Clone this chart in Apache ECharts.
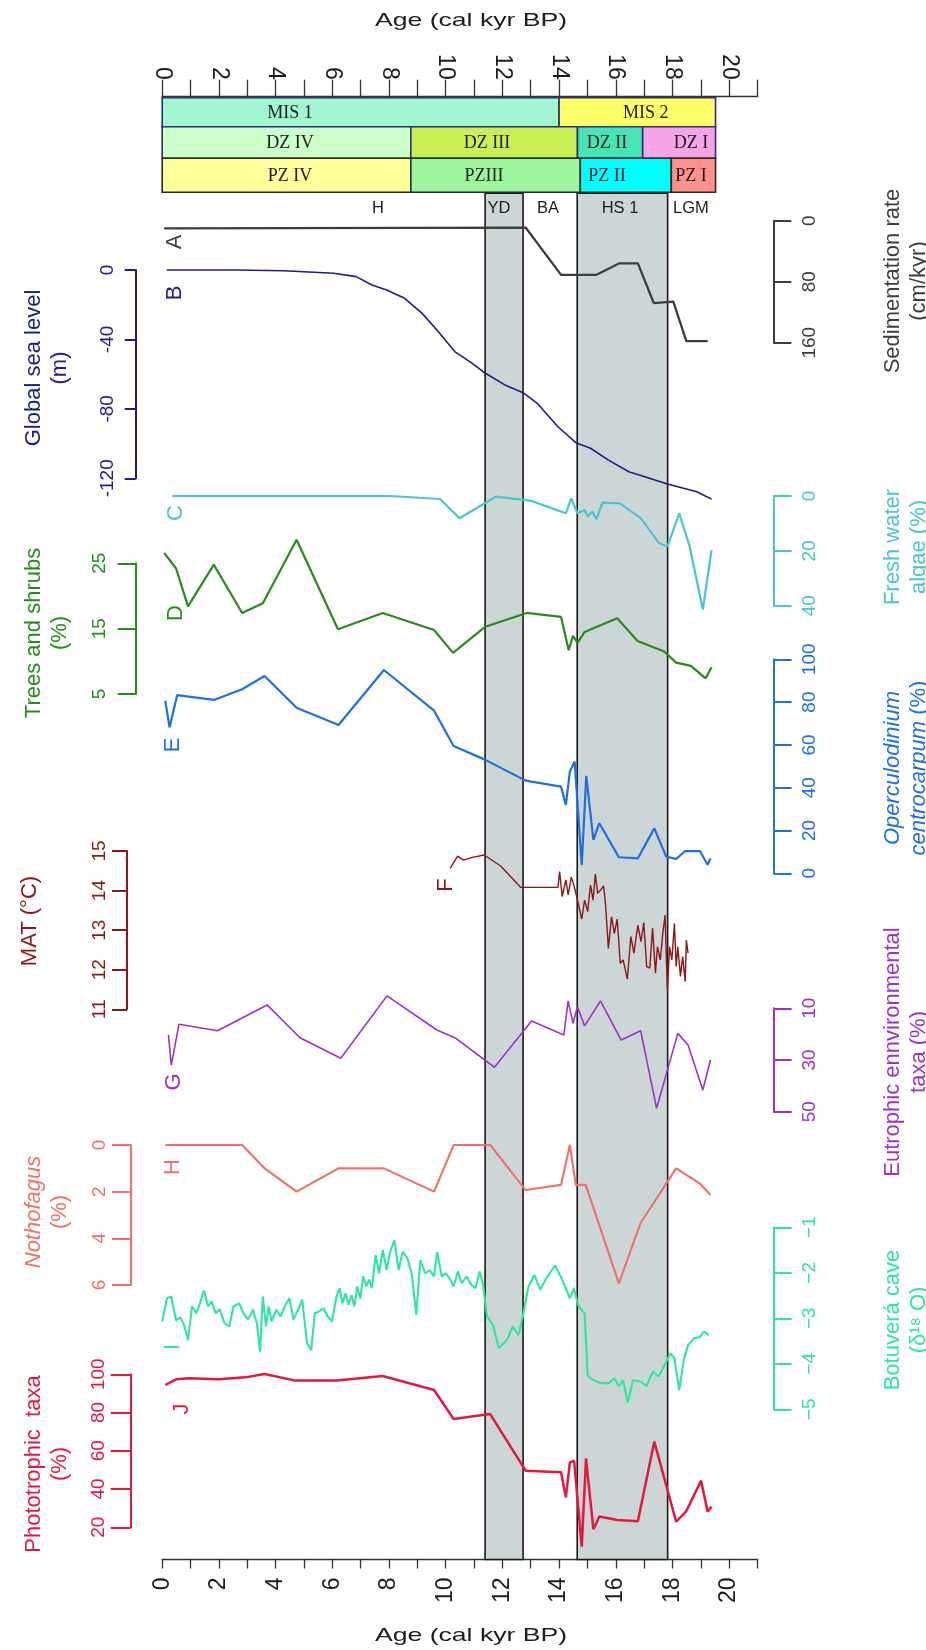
<!DOCTYPE html>
<html>
<head>
<meta charset="utf-8">
<script src="https://cdn.jsdelivr.net/npm/echarts@6/dist/echarts.min.js"></script>
<style>
  html, body { margin: 0; padding: 0; background: #ffffff; }
  #chart { width: 926px; height: 1650px; }
</style>
</head>
<body>
<div id="chart"></div>
<script>
// ---------------- Age axis ----------------
const ageMin = 0, ageMax = 21;
const ageLabels = [0, 2, 4, 6, 8, 10, 12, 14, 16, 18, 20];

// ---------------- Chronozones (MIS / dinocyst zones / pollen zones) ----------------
const zoneNames = ['MIS 1', 'MIS 2', 'DZ IV', 'DZ III', 'DZ II', 'DZ I', 'PZ IV', 'PZIII', 'PZ II', 'PZ I'];
const zoneStart = [0, 14.0, 0, 8.77, 14.65, 16.95, 0, 8.77, 14.75, 17.96];
const zoneEnd   = [14.0, 19.52, 8.77, 14.65, 16.95, 19.52, 8.77, 14.75, 17.96, 19.52];
const zoneRow   = [0, 0, 1, 1, 1, 1, 2, 2, 2, 2];

// ---------------- Climatic periods ----------------
const periodNames = ['H', 'YD', 'BA', 'HS 1', 'LGM'];
const periodAge   = [7.61, 11.88, 13.61, 16.15, 18.65];
const bandStart = [11.39, 14.64];   // YD, HS 1
const bandEnd   = [12.73, 17.83];

// ---------------- A: sedimentation rate (cm/kyr) ----------------
const sedAge  = [0.07, 12.82, 14.07, 15.32, 16.11, 16.78, 17.34, 18.03, 18.49, 19.24];
const sedRate = [10, 9, 71, 71, 56, 56, 108, 106, 158, 158];

// ---------------- B: global sea level (m) ----------------
const seaAge   = [0.16, 2.62, 4.28, 6.05, 6.84, 7.40, 7.92, 8.55, 9.17, 9.69, 10.32, 10.94, 11.40, 12.09, 12.73, 13.23, 13.96, 14.59, 15.11, 15.73, 16.46, 17.19, 17.82, 18.86, 19.38];
const seaLevel = [0, 0, -0.4, -1.9, -3.8, -8.6, -11.5, -16.3, -25, -34.6, -47, -53.8, -59.5, -66.2, -70.7, -76.8, -90.3, -99.5, -102.7, -109.4, -116.2, -120, -123.3, -127.7, -132];

// ---------------- C: fresh water algae (%) ----------------
const algaeAge = [0.36, 8.03, 9.80, 10.49, 11.78, 13.03, 14.24, 14.43, 14.65, 14.90, 15.01, 15.17, 15.32, 15.53, 16.15, 16.88, 17.51, 17.82, 18.24, 18.61, 19.07, 19.38];
const algae    = [0, 0, 1.1, 8.1, 0.2, 1.8, 6.3, 0.9, 6.3, 5.1, 7.5, 5.7, 8.5, 2.4, 2.7, 8.1, 17, 18.5, 6.3, 18.5, 41.4, 19.7];

// ---------------- D: trees and shrubs (%) ----------------
const treeAge = [0.07, 0.49, 0.91, 1.82, 2.82, 3.55, 4.74, 6.20, 7.78, 9.59, 10.26, 11.40, 12.86, 14.07, 14.34, 14.49, 14.65, 14.90, 16.05, 16.77, 17.71, 18.13, 18.65, 19.17, 19.38];
const trees   = [26.6, 24.2, 18.4, 24.8, 17.4, 18.9, 28.6, 14.9, 17.4, 14.8, 11.3, 15.3, 17.4, 16.8, 11.7, 13.9, 12.8, 14.5, 16.6, 13.1, 11.5, 9.8, 9.3, 7.4, 9.1];

// ---------------- E: Operculodinium centrocarpum (%) ----------------
const operAge = [0.11, 0.26, 0.53, 1.82, 2.82, 3.61, 4.74, 6.22, 7.82, 9.59, 10.28, 11.40, 12.82, 14.07, 14.24, 14.38, 14.55, 14.80, 14.96, 15.21, 15.42, 16.11, 16.78, 17.36, 17.78, 18.13, 18.45, 18.97, 19.24, 19.34];
const oper    = [80.6, 68.2, 83.3, 81, 86, 92.2, 77.4, 69.3, 95, 76, 59.5, 53, 43.3, 40.5, 31.9, 47.5, 52.2, 3.9, 45.5, 15.6, 23.4, 7.5, 7, 21, 7.8, 6.7, 10.4, 10.4, 4, 7];

// ---------------- F: mean annual temperature (°C) ----------------
const matAge = [10.16, 10.42, 10.63, 10.94, 11.36, 11.94, 12.65, 13.96, 14.02, 14.11, 14.24, 14.32, 14.43, 14.53, 14.65, 14.80, 14.90, 15.01, 15.11, 15.20, 15.28, 15.36, 15.47, 15.57, 15.64, 15.74, 15.85, 15.95, 16.05, 16.16, 16.26, 16.41, 16.53, 16.64, 16.78, 16.89, 16.99, 17.09, 17.20, 17.30, 17.40, 17.47, 17.57, 17.66, 17.74, 17.82, 17.90, 17.98, 18.07, 18.13, 18.19, 18.28, 18.36, 18.45, 18.49, 18.55];
const mat    = [14.56, 14.87, 14.77, 14.84, 14.90, 14.62, 14.08, 14.08, 14.48, 13.85, 14.27, 13.89, 14.34, 14.12, 13.76, 13.28, 13.76, 13.47, 14.14, 13.76, 14.42, 13.93, 14.02, 14.12, 13.64, 12.54, 13.34, 12.92, 13.28, 12.16, 12.25, 11.76, 12.84, 12.42, 13.13, 12.71, 13.19, 12.08, 12.04, 13.05, 11.91, 12.58, 12.25, 12.92, 13.38, 11.49, 12.58, 12.25, 13.17, 12.08, 12.58, 11.83, 12.33, 11.70, 12.75, 12.42];

// ---------------- G: eutrophic environmental taxa (%) ----------------
const eutAge = [0.22, 0.32, 0.59, 1.95, 3.70, 4.86, 6.30, 7.93, 9.69, 10.36, 11.72, 13.03, 14.17, 14.32, 14.49, 14.65, 14.90, 15.46, 16.19, 16.88, 17.44, 18.19, 18.55, 19.07, 19.34];
const eut    = [20.3, 32, 16.2, 18.7, 8.7, 21.4, 29.3, 5.2, 18.4, 21.6, 32.8, 14.9, 20.3, 7.1, 15.8, 9.4, 16.8, 7.1, 22.3, 18.7, 48.7, 19.7, 24.2, 41.6, 30];

// ---------------- H: Nothofagus (%) ----------------
const nothAge = [0.11, 2.82, 3.61, 4.74, 6.22, 7.82, 9.59, 10.28, 11.57, 12.82, 14.07, 14.38, 14.59, 14.94, 16.11, 16.88, 18.13, 18.96, 19.34];
const noth    = [0, 0, 1.0, 2.0, 1.0, 1.0, 2.0, 0, 0, 1.93, 1.71, 0, 1.71, 1.71, 5.93, 3.33, 1.0, 1.64, 2.14];

// ---------------- I: Botuverá cave δ18O (‰) ----------------
const caveAge = [0.0, 0.17, 0.32, 0.49, 0.63, 0.78, 0.91, 1.05, 1.2, 1.33, 1.47, 1.62, 1.74, 1.89, 2.03, 2.2, 2.37, 2.51, 2.72, 2.86, 3.03, 3.2, 3.34, 3.45, 3.55, 3.66, 3.76, 3.86, 4.03, 4.17, 4.32, 4.49, 4.63, 4.8, 4.94, 5.11, 5.26, 5.38, 5.53, 5.69, 5.84, 5.99, 6.15, 6.26, 6.36, 6.47, 6.57, 6.68, 6.78, 6.88, 6.99, 7.09, 7.2, 7.3, 7.4, 7.53, 7.65, 7.78, 7.92, 8.03, 8.19, 8.34, 8.48, 8.65, 8.8, 8.96, 9.11, 9.28, 9.44, 9.59, 9.7, 9.86, 10.01, 10.16, 10.28, 10.43, 10.57, 10.74, 10.9, 11.05, 11.2, 11.32, 11.46, 11.67, 11.88, 12.19, 12.36, 12.57, 12.72, 12.92, 13.13, 13.34, 13.55, 13.86, 14.11, 14.38, 14.52, 14.69, 14.9, 15.01, 15.11, 15.42, 15.74, 15.95, 16.11, 16.26, 16.42, 16.61, 16.88, 17.09, 17.3, 17.51, 17.72, 17.93, 18.07, 18.24, 18.4, 18.55, 18.76, 18.97, 19.11, 19.28];
const caveD18O = [-3.07, -2.56, -2.52, -3.05, -2.98, -3.16, -3.48, -2.74, -2.89, -2.67, -2.39, -2.74, -2.63, -2.89, -2.8, -3.11, -3.18, -2.74, -2.67, -2.89, -3.03, -2.81, -3.11, -3.73, -2.52, -3.18, -2.74, -3.07, -2.81, -2.96, -2.74, -2.56, -3.03, -2.81, -2.59, -3.55, -3.7, -2.89, -2.85, -2.78, -2.96, -3.07, -2.52, -2.34, -2.67, -2.45, -2.7, -2.49, -2.74, -2.3, -2.56, -2.08, -2.3, -2.15, -2.34, -1.61, -2.01, -1.5, -1.94, -1.57, -1.28, -1.94, -1.54, -1.68, -2.01, -2.92, -1.72, -2.01, -1.94, -2.08, -1.54, -2.08, -2.01, -2.15, -2.3, -1.97, -2.23, -2.08, -2.26, -2.34, -1.97, -2.26, -2.96, -3.15, -3.66, -3.44, -3.18, -3.37, -2.96, -2.3, -2.05, -2.37, -2.12, -1.84, -2.15, -2.56, -2.34, -2.74, -2.89, -4.25, -4.32, -4.42, -4.43, -4.32, -4.49, -4.36, -4.85, -4.36, -4.39, -4.49, -4.17, -4.28, -4.03, -3.77, -3.88, -4.58, -3.92, -3.59, -3.44, -3.41, -3.29, -3.37];

// ---------------- J: phototrophic taxa (%) ----------------
const photAge = [0.11, 0.49, 0.95, 1.99, 2.93, 3.61, 4.70, 6.15, 7.78, 9.59, 10.28, 11.57, 12.82, 14.07, 14.24, 14.38, 14.53, 14.80, 14.95, 15.21, 15.42, 16.05, 16.78, 17.36, 18.13, 18.49, 19.01, 19.24, 19.38];
const phot    = [94.4, 97.4, 97.9, 97.4, 98.4, 100.2, 96.7, 96.7, 99.1, 91.8, 76.6, 79.2, 49.6, 48.8, 35.7, 53.8, 54.8, 9.9, 56.1, 19, 25.6, 23.8, 23.1, 64.8, 22.9, 28.5, 44.4, 28.2, 30.8];

// ================= layout & styles =================
const FONT = '"Liberation Sans", Arial, sans-serif';
const SERIF = '"Liberation Serif", "Times New Roman", serif';
const INK = '#1c1c1c';
const PLOT_LEFT = 162.2, PLOT_WIDTH = 595.3;

const zoneFill = ['#a0f7d0', '#ffff66', '#ccffcc', '#c9ef55', '#45e6b4', '#f5a5e6', '#ffff99', '#9cf79c', '#00ffff', '#ff908a'];
const zoneLabelAt = [4.51, 17.06, 4.51, 11.46, 15.69, 18.65, 4.51, 11.35, 15.69, 18.65];
const rowEdges = [0, 29, 60.6, 94.6];
const rowStroke = ['#2d2d78', '#2d2d78', '#2a2a2a'];

const minusFmt = v => (v < 0 ? '\u2212' + Math.abs(v) : String(v));

const PANELS = [
  { age: sedAge,   val: sedRate,  color: '#3d3d3d', width: 2.3, top: 220.7,  h: 122,   side: 'right', off: 15.8, min: 0,   max: 160, step: 80, inv: true,  tick: 18, margin: 27 },
  { age: seaAge,   val: seaLevel, color: '#1c1c8c', width: 1.6, top: 270,    h: 208.3, side: 'left',  off: 26.5, min: -120, max: 0,  step: 40, inv: false, tick: 11, margin: 18 },
  { age: algaeAge, val: algae,    color: '#48c6cb', width: 2.2, top: 496,    h: 109.7, side: 'right', off: 16.1, min: 0,   max: 40,  step: 20, inv: true,  tick: 18, margin: 27 },
  { age: treeAge,  val: trees,    color: '#2b8a1f', width: 2.2, top: 563.3,  h: 130.7, side: 'left',  off: 26.4, min: 5,   max: 25,  step: 10, inv: false, tick: 18, margin: 27 },
  { age: operAge,  val: oper,     color: '#1f6fe2', width: 2.2, top: 659.3,  h: 214,   side: 'right', off: 16.1, min: 0,   max: 100, step: 20, inv: false, tick: 18, margin: 27 },
  { age: matAge,   val: mat,      color: '#8c1717', width: 1.4, top: 851,    h: 158.3, side: 'left',  off: 35.2, min: 11,  max: 15,  step: 1,  inv: false, tick: 15, margin: 18 },
  { age: eutAge,   val: eut,      color: '#9a33cc', width: 1.6, top: 1008.3, h: 103.4, side: 'right', off: 16.1, min: 10,  max: 50,  step: 20, inv: true,  tick: 18, margin: 27 },
  { age: nothAge,  val: noth,     color: '#f07169', width: 2.1, top: 1145,   h: 140,   side: 'left',  off: 31.2, min: 0,   max: 6,   step: 2,  inv: true,  tick: 19, margin: 22 },
  { age: caveAge,  val: caveD18O, color: '#2ee79d', width: 2.1, top: 1227.3, h: 182,   side: 'right', off: 16.1, min: -5,  max: -1,  step: 1,  inv: false, tick: 18, margin: 27, fmt: minusFmt },
  { age: photAge,  val: phot,     color: '#e5173f', width: 2.5, top: 1374.3, h: 153,   side: 'left',  off: 31.5, min: 20,  max: 100, step: 20, inv: false, tick: 20, margin: 22 }
];

// panel letters and titles
const letterText = ['A', 'B', 'C', 'D', 'E', 'F', 'G', 'H', 'I', 'J'];
const letterPos = [[175, 242], [175, 293], [176, 513], [176, 613], [173, 745], [446, 885], [174, 1082], [173, 1167], [173, 1347], [182, 1409]];
const titles = [
  { text: 'Sedimentation rate\n(cm/kyr)', x: 906, y: 281 },
  { text: 'Global sea level\n(m)', x: 47, y: 368 },
  { text: 'Fresh water\nalgae (%)', x: 906, y: 547 },
  { text: 'Trees and shrubs\n(%)', x: 47, y: 633 },
  { text: '{i|Operculodinium}\n{i|centrocarpum} (%)', x: 906, y: 768 },
  { text: 'MAT (°C)', x: 30, y: 921 },
  { text: 'Eutrophic ennvironmental\ntaxa (%)', x: 906, y: 1052 },
  { text: '{i|Nothofagus}\n(%)', x: 47, y: 1212 },
  { text: 'Botuverá cave\n(δ\u00B9\u2078 O)', x: 906, y: 1320 },
  { text: 'Phototrophic  taxa\n(%)', x: 47, y: 1464 }
];

// ================= build option =================
const grids = [], xAxes = [], yAxes = [], series = [], graphics = [];

function addGrid(top, height) {
  grids.push({ left: PLOT_LEFT, width: PLOT_WIDTH, top: top, height: height, containLabel: false });
  return grids.length - 1;
}
function hiddenX(g) {
  xAxes.push({ type: 'value', gridIndex: g, min: ageMin, max: ageMax, show: false });
  return xAxes.length - 1;
}
const ageLabelFmt = v => (ageLabels.indexOf(v) >= 0 ? String(v) : '');
// top labels sit in a fixed-length box so every number ends at the same height
const ageLabelTopFmt = v => (ageLabels.indexOf(v) >= 0 ? '{t|' + v + '}' : '');

// frame grid carrying the top and bottom age axes
const gFrame = addGrid(96.7, 1462.8);
const ageAxisBase = {
  type: 'value', gridIndex: gFrame, min: ageMin, max: ageMax, interval: 1,
  axisLine: { show: true, onZero: false, lineStyle: { color: '#333', width: 1.3 } },
  splitLine: { show: false }
};
xAxes.push(Object.assign({}, ageAxisBase, {
  position: 'top',
  axisTick: { show: true, length: 17, lineStyle: { color: '#333', width: 1.3 } },
  axisLabel: {
    rotate: 90, margin: 17, fontSize: 23, color: INK, fontFamily: FONT, formatter: ageLabelTopFmt,
    rich: { t: { width: 30, align: 'right', fontSize: 23, color: INK, fontFamily: FONT } }
  }
}));
xAxes.push(Object.assign({}, ageAxisBase, {
  position: 'bottom',
  axisTick: { show: true, length: 9, lineStyle: { color: '#333', width: 1.3 } },
  axisLabel: { rotate: 90, margin: 18, fontSize: 23, color: INK, fontFamily: FONT, formatter: ageLabelFmt }
}));
yAxes.push({ type: 'value', gridIndex: gFrame, min: 0, max: 1, show: false });

// chronozone boxes
const gZone = addGrid(97.7, 94.6);
const xZone = hiddenX(gZone);
yAxes.push({ type: 'value', gridIndex: gZone, min: 0, max: rowEdges[3], inverse: true, show: false });
series.push({
  type: 'custom', xAxisIndex: xZone, yAxisIndex: yAxes.length - 1, z: 3, silent: true,
  data: zoneStart.map((s, i) => [s, zoneEnd[i], zoneRow[i]]),
  encode: { x: [0, 1], y: 2 },
  renderItem: function (params, api) {
    const i = params.dataIndex;
    const r = api.value(2);
    const a = api.coord([api.value(0), rowEdges[r]]);
    const b = api.coord([api.value(1), rowEdges[r + 1]]);
    const c = api.coord([zoneLabelAt[i], (rowEdges[r] + rowEdges[r + 1]) / 2]);
    return {
      type: 'group',
      children: [
        { type: 'rect', shape: { x: a[0], y: a[1], width: b[0] - a[0], height: b[1] - a[1] },
          style: { fill: zoneFill[i], stroke: rowStroke[r], lineWidth: 1.6 } },
        { type: 'text', x: c[0], y: c[1] + 1,
          style: { text: zoneNames[i], align: 'center', verticalAlign: 'middle', font: '18px ' + SERIF, fill: INK } }
      ]
    };
  }
});

// grey bands (YD, HS 1) and period labels
const gBand = addGrid(193.3, 1366.2);
const xBand = hiddenX(gBand);
yAxes.push({ type: 'value', gridIndex: gBand, min: 0, max: 1, show: false });
const yBand = yAxes.length - 1;
series.push({
  type: 'custom', xAxisIndex: xBand, yAxisIndex: yBand, z: 1, silent: true,
  data: bandStart.map((s, i) => [s, bandEnd[i]]),
  encode: { x: [0, 1] },
  renderItem: function (params, api) {
    const a = api.coord([api.value(0), 1]);
    const b = api.coord([api.value(1), 0]);
    return { type: 'rect', shape: { x: a[0], y: a[1], width: b[0] - a[0], height: b[1] - a[1] },
             style: { fill: '#cdd6d6', stroke: '#1b1b1b', lineWidth: 1.6 } };
  }
});
series.push({
  type: 'custom', xAxisIndex: xBand, yAxisIndex: yBand, z: 2, silent: true,
  data: periodAge.map(a => [a]),
  encode: { x: 0 },
  renderItem: function (params, api) {
    const p = api.coord([api.value(0), 1]);
    return { type: 'text', x: p[0], y: p[1] + 15,
             style: { text: periodNames[params.dataIndex], align: 'center', verticalAlign: 'middle',
                      font: '16.5px ' + FONT, fill: INK } };
  }
});

// proxy panels
PANELS.forEach(function (p) {
  const g = addGrid(p.top, p.h);
  const xi = hiddenX(g);
  yAxes.push({
    type: 'value', gridIndex: g, position: p.side, offset: p.off,
    min: p.min, max: p.max, interval: p.step, inverse: p.inv,
    axisLine: { show: true, onZero: false, lineStyle: { color: p.color, width: 2 } },
    axisTick: { show: true, length: p.tick, lineStyle: { color: p.color, width: 2 } },
    axisLabel: { rotate: 90, margin: p.margin, fontSize: 19, color: p.color, fontFamily: FONT, formatter: p.fmt },
    splitLine: { show: false }
  });
  series.push({
    type: 'line', xAxisIndex: xi, yAxisIndex: yAxes.length - 1, z: 5, silent: true,
    data: p.age.map((a, k) => [a, p.val[k]]),
    symbol: 'none', showSymbol: false, clip: false,
    lineStyle: { color: p.color, width: p.width }
  });
});

// axis titles (vertical) and panel letters
titles.forEach(function (t, i) {
  const col = PANELS[i].color;
  graphics.push({
    type: 'text', x: t.x, y: t.y, rotation: Math.PI / 2, silent: true,
    style: {
      text: t.text, align: 'center', verticalAlign: 'middle',
      fontSize: 22, fontFamily: FONT, fill: col, lineHeight: 26,
      rich: { i: { fontStyle: 'italic', fontSize: 22, fontFamily: FONT, fill: col, lineHeight: 26 } }
    }
  });
});
letterText.forEach(function (L, i) {
  graphics.push({
    type: 'text', x: letterPos[i][0], y: letterPos[i][1], rotation: Math.PI / 2, silent: true,
    style: { text: L, align: 'center', verticalAlign: 'middle', fontSize: 22, fontFamily: FONT, fill: PANELS[i].color }
  });
});
// age axis titles
[21, 1636].forEach(function (y) {
  graphics.push({
    type: 'text', x: 471, y: y, scaleX: 1.4, silent: true,
    style: { text: 'Age (cal kyr BP)', align: 'center', verticalAlign: 'middle', fontSize: 19, fontFamily: FONT, fill: INK }
  });
});

const chart = echarts.init(document.getElementById('chart'), null, { renderer: 'canvas', devicePixelRatio: 1 });
chart.setOption({
  animation: false,
  backgroundColor: '#ffffff',
  textStyle: { fontFamily: FONT },
  grid: grids,
  xAxis: xAxes,
  yAxis: yAxes,
  series: series,
  graphic: { elements: graphics }
});
</script>
</body>
</html>
